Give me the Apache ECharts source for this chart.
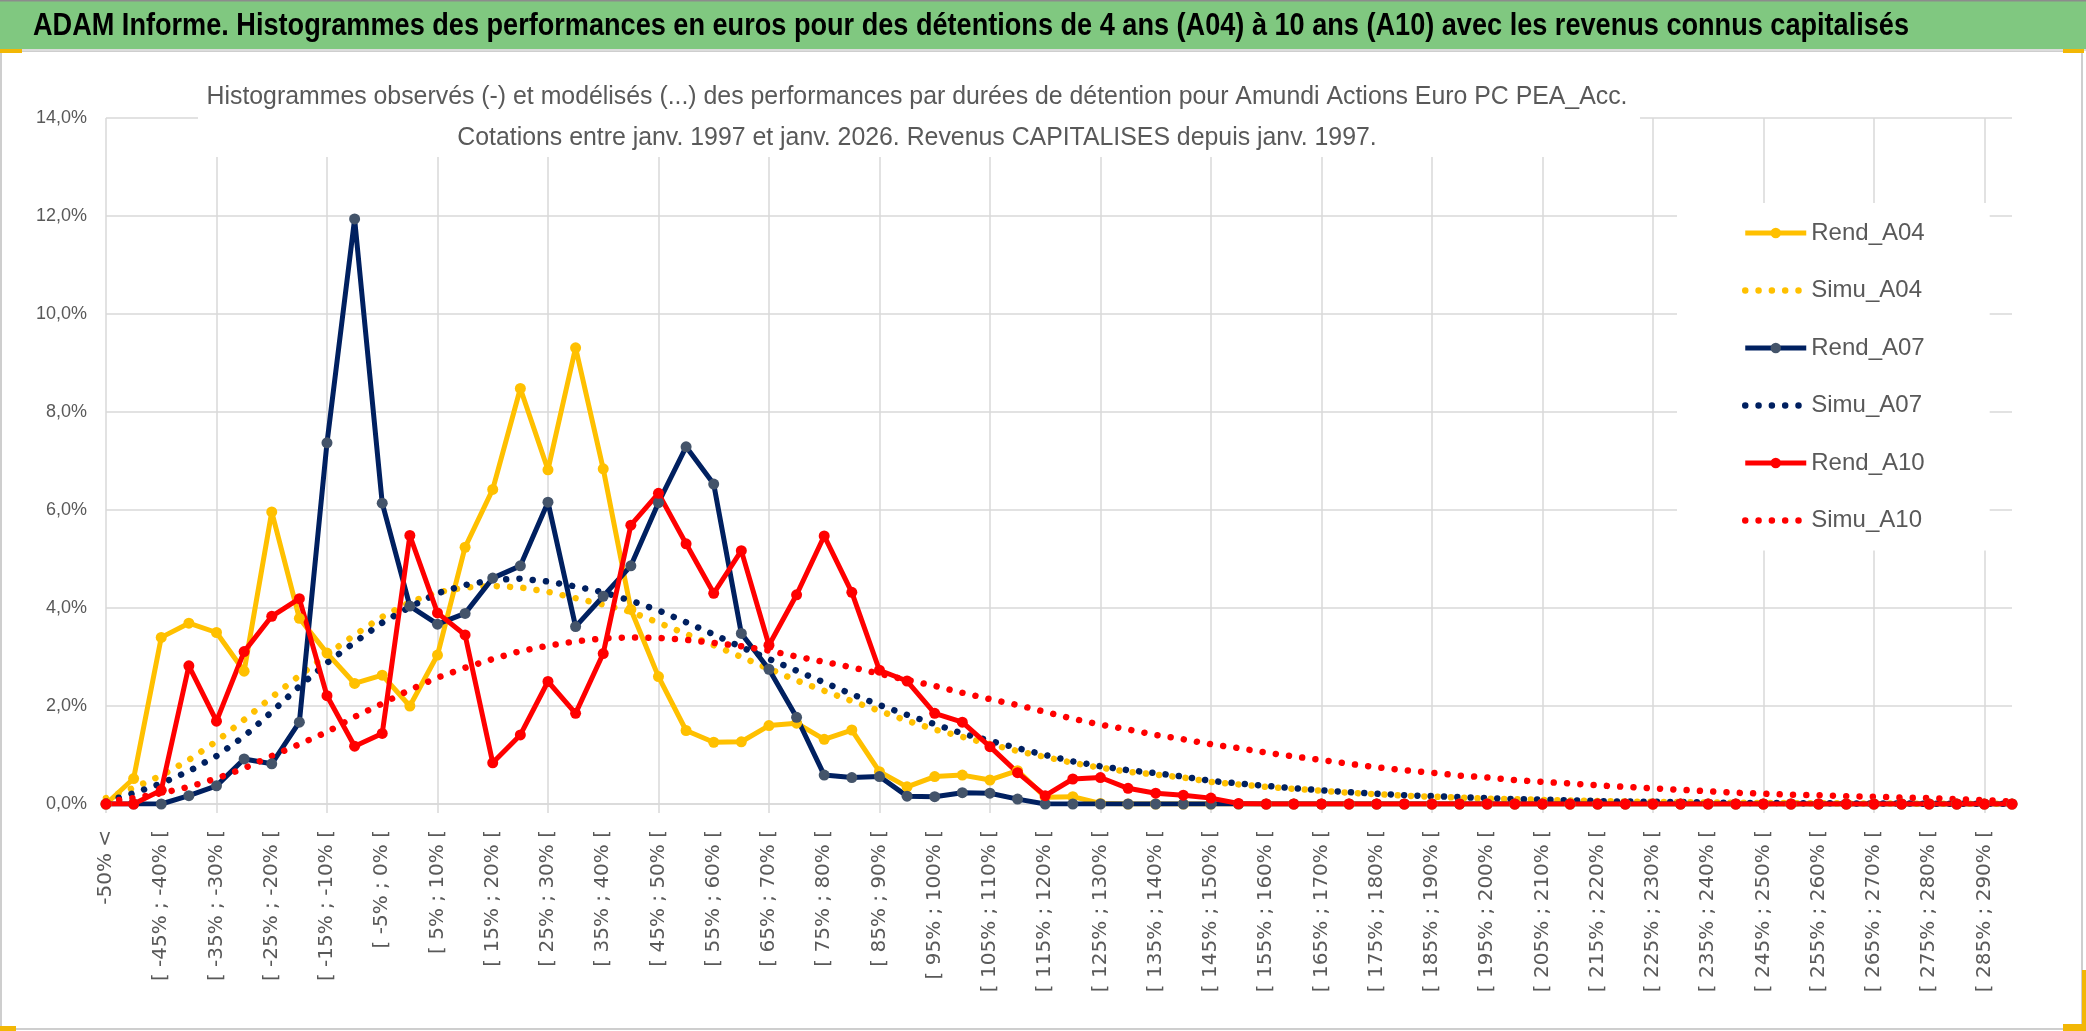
<!DOCTYPE html>
<html><head><meta charset="utf-8">
<script src="https://cdn.jsdelivr.net/npm/echarts@6/dist/echarts.min.js"></script>
<style>html,body{margin:0;padding:0;background:#fff}#c{width:2086px;height:1031px}</style>
</head><body><div id="c"></div><script>
const categories = ["-50% <",
"[ -50% ; -45% [","[ -45% ; -40% [","[ -40% ; -35% [","[ -35% ; -30% [","[ -30% ; -25% [","[ -25% ; -20% [","[ -20% ; -15% [","[ -15% ; -10% [","[ -10% ; -5% [","[ -5% ; 0% [",
"[ 0% ; 5% [","[ 5% ; 10% [","[ 10% ; 15% [","[ 15% ; 20% [","[ 20% ; 25% [","[ 25% ; 30% [","[ 30% ; 35% [","[ 35% ; 40% [","[ 40% ; 45% [","[ 45% ; 50% [",
"[ 50% ; 55% [","[ 55% ; 60% [","[ 60% ; 65% [","[ 65% ; 70% [","[ 70% ; 75% [","[ 75% ; 80% [","[ 80% ; 85% [","[ 85% ; 90% [","[ 90% ; 95% [","[ 95% ; 100% [",
"[ 100% ; 105% [","[ 105% ; 110% [","[ 110% ; 115% [","[ 115% ; 120% [","[ 120% ; 125% [","[ 125% ; 130% [","[ 130% ; 135% [","[ 135% ; 140% [","[ 140% ; 145% [","[ 145% ; 150% [",
"[ 150% ; 155% [","[ 155% ; 160% [","[ 160% ; 165% [","[ 165% ; 170% [","[ 170% ; 175% [","[ 175% ; 180% [","[ 180% ; 185% [","[ 185% ; 190% [","[ 190% ; 195% [","[ 195% ; 200% [",
"[ 200% ; 205% [","[ 205% ; 210% [","[ 210% ; 215% [","[ 215% ; 220% [","[ 220% ; 225% [","[ 225% ; 230% [","[ 230% ; 235% [","[ 235% ; 240% [","[ 240% ; 245% [","[ 245% ; 250% [",
"[ 250% ; 255% [","[ 255% ; 260% [","[ 260% ; 265% [","[ 265% ; 270% [","[ 270% ; 275% [","[ 275% ; 280% [","[ 280% ; 285% [","[ 285% ; 290% [","[ 290% ; 295% ["];

const rendA04 = [0,0.52,3.40,3.69,3.50,2.71,5.96,3.79,3.08,2.46,2.63,2.00,3.04,5.24,6.42,8.48,6.82,9.31,6.84,3.97,
2.60,1.50,1.26,1.27,1.60,1.65,1.32,1.51,0.66,0.35,0.56,0.59,0.49,0.68,0.14,0.15,0.01,0,0,0,
0,0,0,0,0,0,0,0,0,0,0,0,0,0,0,0,0,0,0,0,0,0,0,0,0,0,0,0,0,0];
const simuA04 = [0.12,0.33,0.58,0.90,1.28,1.72,2.18,2.62,3.05,3.45,3.82,4.12,4.32,4.42,4.45,4.42,4.33,4.20,4.07,3.92,
3.70,3.47,3.24,3.00,2.76,2.52,2.31,2.10,1.90,1.70,1.52,1.37,1.22,1.08,0.96,0.84,0.74,0.66,0.60,0.54,
0.45,0.40,0.35,0.31,0.27,0.23,0.20,0.17,0.15,0.13,0.11,0.10,0.085,0.07,0.06,0.05,0.045,0.04,0.03,0.025,
0.02,0.018,0.015,0.012,0.01,0.008,0.007,0.006,0.005,0.004];
const rendA07 = [0,0,0,0.17,0.37,0.92,0.82,1.67,7.37,11.94,6.14,4.04,3.67,3.89,4.61,4.86,6.16,3.62,4.24,4.86,
6.15,7.29,6.53,3.48,2.75,1.77,0.59,0.54,0.56,0.16,0.15,0.23,0.22,0.10,0,0,0,0,0,0,
0,0,0,0,0,0,0,0,0,0,0,0,0,0,0,0,0,0,0,0,0,0,0,0,0,0,0,0,0,0];
const simuA07 = [0.05,0.22,0.42,0.67,0.98,1.38,1.88,2.40,2.88,3.30,3.70,4.02,4.30,4.47,4.57,4.60,4.54,4.44,4.32,4.15,
3.95,3.71,3.46,3.20,2.96,2.72,2.48,2.24,2.02,1.82,1.63,1.44,1.29,1.14,1.00,0.87,0.77,0.69,0.63,0.56,
0.47,0.42,0.37,0.32,0.28,0.24,0.21,0.18,0.16,0.14,0.12,0.10,0.09,0.075,0.06,0.05,0.045,0.04,0.03,0.025,
0.02,0.018,0.015,0.012,0.01,0.008,0.007,0.006,0.005,0.004];
const rendA10 = [0,0,0.28,2.82,1.69,3.11,3.83,4.19,2.21,1.18,1.44,5.48,3.90,3.45,0.84,1.41,2.50,1.85,3.07,5.69,
6.34,5.31,4.30,5.17,3.24,4.27,5.47,4.32,2.73,2.51,1.85,1.67,1.17,0.64,0.17,0.51,0.54,0.32,0.22,0.18,
0.12,0.01,0,0,0,0,0,0,0,0,0,0,0,0,0,0,0,0,0,0,0,0,0,0,0,0,0,0,0,0];
const simuA10 = [0.05,0.12,0.22,0.35,0.52,0.73,0.98,1.22,1.47,1.78,2.05,2.33,2.58,2.78,2.96,3.12,3.23,3.32,3.38,3.40,
3.39,3.35,3.29,3.22,3.13,3.01,2.90,2.79,2.66,2.53,2.41,2.27,2.14,2.02,1.88,1.74,1.62,1.52,1.41,1.32,
1.22,1.14,1.05,0.97,0.90,0.82,0.75,0.69,0.64,0.58,0.54,0.49,0.45,0.42,0.38,0.35,0.32,0.29,0.26,0.23,
0.21,0.19,0.18,0.16,0.15,0.13,0.12,0.10,0.08,0.05];

const mainTitle = "ADAM Informe. Histogrammes des performances en euros pour des détentions de 4 ans (A04) à 10 ans (A10) avec les revenus connus capitalisés";
const subLine1 = "Histogrammes observés (-) et modélisés (...) des performances par durées de détention pour Amundi Actions Euro PC PEA_Acc.";
const subLine2 = "Cotations entre janv. 1997 et janv. 2026. Revenus CAPITALISES depuis janv. 1997.";
const legendNames = ['Rend_A04','Simu_A04','Rend_A07','Simu_A07','Rend_A10','Simu_A10'];

const FONT = "'Liberation Sans', Arial, sans-serif";
const GRID = '#D9D9D9';
const TXT = '#595959';

// measure text to reproduce the condensed look of the original texts
const mctx = document.createElement('canvas').getContext('2d');
function tw(t, font) { mctx.font = font; return mctx.measureText(t).width; }
const titleFont = "bold 32px " + FONT;
const titleScale = 1876 / tw(mainTitle, titleFont);
const subFont = "26px " + FONT;
const subScale = 1421 / tw(subLine1, subFont);
const legendSize = Math.max(18, Math.min(30, Math.round(28 * 113 / tw('Rend_A04', '28px ' + FONT))));
const yLabSize = Math.max(14, Math.min(24, Math.round(20 * 52 / tw('14,0%', '20px ' + FONT))));

function rend(name, data, color, marker) {
  return {type:'line', name, data, symbol:'circle', symbolSize:11, showSymbol:true,
    lineStyle:{color, width:5}, itemStyle:{color:marker}, emphasis:{disabled:true}};
}
function simu(name, data, color) {
  return {type:'line', name, data, symbol:'none', showSymbol:false,
    lineStyle:{color, width:6.5, type:[0.01, 13.3], cap:'round'}, itemStyle:{color}, emphasis:{disabled:true}};
}

const chart = echarts.init(document.getElementById('c'), null, {renderer:'canvas'});
chart.setOption({
  animation:false,
  backgroundColor:'#fff',
  legend:{
    orient:'vertical', left:1677, top:203, backgroundColor:'#fff', padding:[15,65,15,65],
    itemGap:27.5, itemWidth:61, itemHeight:13,
    lineStyle:{width:'inherit'},
    textStyle:{color:TXT, fontSize:legendSize, fontFamily:FONT, lineHeight:30},
    data:legendNames.map(n => n.indexOf('Simu') === 0 ? {name:n, itemStyle:{opacity:0}} : {name:n})
  },
  grid:{left:106, right:74, top:118, bottom:227, containLabel:false},
  xAxis:{
    type:'category', data:categories, boundaryGap:false,
    axisLine:{lineStyle:{color:GRID, width:1.5}},
    axisTick:{show:true, interval:3, length:9, lineStyle:{color:GRID, width:1.5}},
    axisLabel:{interval:1, rotate:90, margin:26, fontSize:20, fontFamily:'DejaVu Sans', color:TXT},
    splitLine:{show:true, interval:3, lineStyle:{color:GRID, width:1.5}}
  },
  yAxis:{
    type:'value', min:0, max:14, interval:2,
    axisLabel:{formatter:v => v.toFixed(1).replace('.', ',') + '%', color:TXT, fontSize:yLabSize, fontFamily:FONT, margin:19},
    axisLine:{show:false}, axisTick:{show:false},
    splitLine:{lineStyle:{color:GRID, width:1.5}}
  },
  series:[
    rend('Rend_A04', rendA04, '#FFC000', '#FFC000'),
    simu('Simu_A04', simuA04, '#FFC000'),
    rend('Rend_A07', rendA07, '#002060', '#44546A'),
    simu('Simu_A07', simuA07, '#002060'),
    rend('Rend_A10', rendA10, '#FF0000', '#FF0000'),
    simu('Simu_A10', simuA10, '#FF0000')
  ],
  graphic:[
    {type:'rect', z:10, shape:{x:0,y:0,width:2086,height:49}, style:{fill:'#80C880'}},
    {type:'rect', z:10, shape:{x:0,y:0,width:2086,height:1.5}, style:{fill:'#8C8C8C'}},
    {type:'rect', z:10, shape:{x:0,y:49,width:2086,height:2}, style:{fill:'#DCDCDC'}},
    {type:'rect', z:1, shape:{x:1,y:51,width:2081,height:978}, style:{fill:'none', stroke:'#BFBFBF', lineWidth:1.5}},
    {type:'rect', z:10, shape:{x:0,y:49,width:22,height:4}, style:{fill:'#F2B705'}},
    {type:'rect', z:10, shape:{x:2063,y:49,width:21,height:4}, style:{fill:'#F2B705'}},
    {type:'rect', z:10, shape:{x:2082,y:970,width:4,height:61}, style:{fill:'#F2B705'}},
    {type:'rect', z:10, shape:{x:2063,y:1024,width:23,height:7}, style:{fill:'#F2B705'}},
    {type:'rect', z:10, shape:{x:0,y:1026,width:16,height:5}, style:{fill:'#F2B705'}},
    {type:'text', z:11, x:33, y:26, scaleX:titleScale, scaleY:1,
      style:{text:mainTitle, font:titleFont, fill:'#000', align:'left', verticalAlign:'middle', textAlign:'left', textVerticalAlign:'middle'}},
    {type:'rect', z:10, shape:{x:198,y:68,width:1442,height:89}, style:{fill:'#fff'}},
    {type:'text', z:11, x:917, y:97, scaleX:subScale, scaleY:1,
      style:{text:subLine1, font:subFont, fill:TXT, align:'center', verticalAlign:'middle', textAlign:'center', textVerticalAlign:'middle'}},
    {type:'text', z:11, x:917, y:138, scaleX:subScale, scaleY:1,
      style:{text:subLine2, font:subFont, fill:TXT, align:'center', verticalAlign:'middle', textAlign:'center', textVerticalAlign:'middle'}}
  ]
});
</script></body></html>
